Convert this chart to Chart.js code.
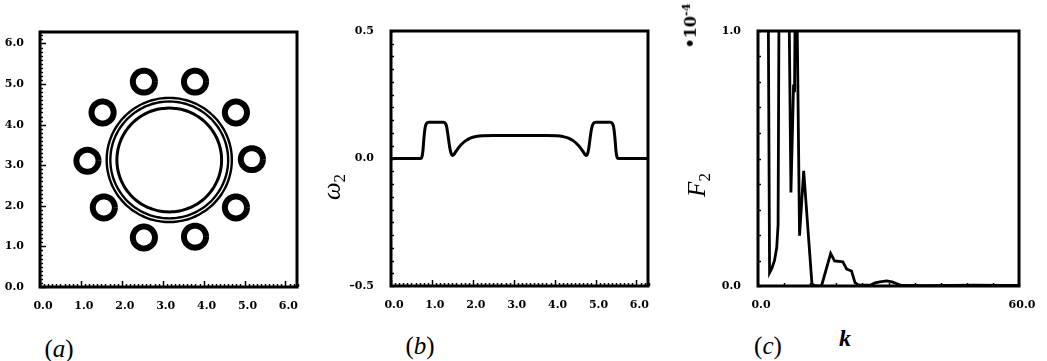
<!DOCTYPE html>
<html lang="en">
<head>
<meta charset="UTF-8" />
<title>Vortex ring geometry, ω2 profile and spectrum</title>
<script src="https://cdn.jsdelivr.net/npm/chart.js"></script>
<style>
  body { margin: 0; background: #fff; width: 1047px; height: 361px; position: relative; overflow: hidden; }
  canvas { position: absolute; top: 0; }
  .lbl { position: absolute; color: #000; font-family: 'Liberation Serif', 'DejaVu Serif', serif; white-space: nowrap; line-height: 1; }
  .ctr { transform: translate(-50%, -50%); }
  .rot { transform: translate(-50%, -50%) rotate(-90deg); }
  .sub { font-size: 0.68em; font-style: normal; position: relative; top: 0.28em; }
</style>
</head>
<body>
<canvas id="geom" width="310" height="320" style="left:0"></canvas>
<canvas id="omega" width="360" height="320" style="left:300px"></canvas>
<canvas id="spec" width="367" height="320" style="left:680px"></canvas>

<div class="lbl ctr" style="left:59px; top:348px; font-size:25px">(<i>a</i>)</div>
<div class="lbl ctr" style="left:420px; top:345px; font-size:25px">(<i>b</i>)</div>
<div class="lbl ctr" style="left:768px; top:345px; font-size:25px">(<i>c</i>)</div>
<div class="lbl ctr" style="left:845px; top:338px; font-size:24px"><b><i>k</i></b></div>
<div class="lbl rot" style="left:331px; top:187px; font-size:25px"><i>ω</i><span class="sub">2</span></div>
<div class="lbl rot" style="left:696px; top:185px; font-size:25px"><i>F</i><span class="sub">2</span></div>
<div class="lbl rot" style="left:690px; top:26px; font-size:16px; font-weight:bold; font-family:'DejaVu Serif', serif">•10<sup style="font-size:0.7em">-4</sup></div>

<script>
  // (a) central ring: centre and the radii of its three contours
  const ringCenter = [3.16, 3.13];
  const ringRadii = [1.53, 1.44, 1.28];
  // (a) the ten small cylinders around it
  const cylX = [2.54, 3.79, 1.53, 4.79, 1.16, 5.18, 1.56, 4.79, 2.54, 3.79];
  const cylY = [5.06, 5.06, 4.30, 4.30, 3.11, 3.15, 1.96, 1.96, 1.22, 1.24];
  const cylRadius = 0.27;
  const geomTicks = [0, 1, 2, 3, 4, 5, 6];
  const geomTickLabels = ['0.0', '1.0', '2.0', '3.0', '4.0', '5.0', '6.0'];

  // (b) omega_2 along the boundary
  const omegaX = [0, 0.72, 0.755, 0.78, 0.805, 0.835, 0.87, 0.92, 1.28, 1.33, 1.36, 1.39, 1.42, 1.45, 1.48, 1.51,
    1.54, 1.58, 1.64, 1.72, 1.82, 1.94, 2.08, 2.25, 2.5, 3.8, 4.05, 4.2, 4.34, 4.46, 4.56, 4.64, 4.70, 4.74, 4.77,
    4.80, 4.83, 4.86, 4.89, 4.92, 4.95, 5.0, 5.36, 5.41, 5.445, 5.475, 5.50, 5.525, 5.56, 6.283];
  const omegaY = [0, 0, 0.006, 0.03, 0.08, 0.122, 0.138, 0.142, 0.142, 0.138, 0.125, 0.095, 0.06, 0.032, 0.016, 0.012,
    0.016, 0.026, 0.04, 0.055, 0.069, 0.08, 0.086, 0.089, 0.09, 0.09, 0.089, 0.086, 0.08, 0.069, 0.055, 0.04, 0.026, 0.016, 0.012,
    0.016, 0.035, 0.07, 0.105, 0.128, 0.138, 0.142, 0.142, 0.138, 0.122, 0.08, 0.03, 0.006, 0, 0];
  const omegaXTicks = [0, 1, 2, 3, 4, 5, 6];
  const omegaXTickLabels = ['0.0', '1.0', '2.0', '3.0', '4.0', '5.0', '6.0'];
  const omegaYTicks = [-0.5, 0, 0.5];
  const omegaYTickLabels = ['\u20130.5', '0.0', '0.5'];

  // (c) spectrum F_2(k), in units of 1e-4 (peaks run off the top)
  const specK = [0, 2.3, 2.66, 3.2, 3.8, 4.3, 4.62, 4.95, 6.9, 7.57, 8.18, 8.4, 8.7, 9.55, 10.5, 12.4, 13.1, 14.6,
    16.7, 17.6, 19.5, 20.4, 21.5, 22.3, 22.8, 23.4, 25.8, 26.9, 28.0, 29.6, 30.8, 31.8, 33.0, 38, 44, 50, 56, 60];
  const specF = [3.2, 1.3, 0.052, 0.07, 0.1, 0.15, 0.24, 1.6, 1.5, 0.367, 0.79, 0.76, 1.5, 0.197, 0.452, 0.008, 0.0, 0.0,
    0.127, 0.098, 0.095, 0.066, 0.059, 0.013, 0.007, 0.003, 0.003, 0.012, 0.016, 0.02, 0.016, 0.01, 0.002, 0.001, 0.002, 0.003, 0.002, 0.002];
  const specXTicks = [0, 60];
  const specXTickLabels = ['0.0', '60.0'];
  const specYTicks = [0, 1];
  const specYTickLabels = ['0.0', '1.0'];

  const TWO_PI = 2 * Math.PI;
  const tickFont = { family: "'DejaVu Serif', serif", size: 11, weight: 'bold' };

  // heavy box around the plot area plus short inward tick marks on left and bottom
  const frameTicks = {
    id: 'frameTicks',
    afterDatasetsDraw(chart, args, opts) {
      const { ctx, chartArea: a, scales } = chart;
      ctx.save();
      ctx.strokeStyle = '#000';
      ctx.lineWidth = 1.5;
      const marks = (scale, t, horizontal) => {
        const n = Math.round((scale.max - scale.min) / t.minor);
        for (let i = 0; i <= n; i++) {
          const v = scale.min + i * t.minor;
          const q = v / t.major;
          const l = Math.abs(q - Math.round(q)) < 1e-6 ? t.majorLen : t.minorLen;
          const p = Math.round(scale.getPixelForValue(v)) + 0.5;
          ctx.beginPath();
          if (horizontal) { ctx.moveTo(p, a.bottom); ctx.lineTo(p, a.bottom - l); }
          else { ctx.moveTo(a.left, p); ctx.lineTo(a.left + l, p); }
          ctx.stroke();
        }
      };
      marks(scales.x, opts.x, true);
      marks(scales.y, opts.y, false);
      ctx.lineWidth = 3;
      ctx.strokeRect(a.left, a.top, a.right - a.left, a.bottom - a.top);
      ctx.restore();
    }
  };

  function axis(min, max, ticks, labels, size, horizontal, padding) {
    return {
      type: 'linear', min, max,
      grid: { display: false },
      border: { display: false },
      afterBuildTicks: s => { s.ticks = ticks.map(v => ({ value: v })); },
      afterFit: s => { if (horizontal) s.height = size; else s.width = size; },
      ticks: {
        autoSkip: false, maxRotation: 0, minRotation: 0, color: '#000', font: tickFont, padding,
        labelOffset: horizontal ? 3 : 0,
        callback: (v, i) => labels[i]
      }
    };
  }

  function baseOptions(pad, xAxis, yAxis, tickSpec) {
    return {
      responsive: false, animation: false, events: [],
      layout: { padding: pad },
      plugins: { legend: { display: false }, tooltip: { enabled: false }, frameTicks: tickSpec },
      scales: { x: xAxis, y: yAxis }
    };
  }

  const outline = (cx, cy, r) => Array.from({ length: 97 }, (_, i) => {
    const t = i / 96 * TWO_PI;
    return { x: cx + r * Math.cos(t), y: cy + r * Math.sin(t) };
  });

  // (a) geometry; a little tension keeps the closed outlines off the fast path
  const circleStyle = { borderColor: '#000', pointRadius: 0, showLine: true, tension: 0.3, borderJoinStyle: 'round' };
  const geomSets = ringRadii.map((r, i) => Object.assign({
    data: outline(ringCenter[0], ringCenter[1], r), borderWidth: i === 2 ? 3 : 2.4
  }, circleStyle)).concat(cylX.map((cx, i) => Object.assign({
    data: outline(cx, cylY[i], cylRadius), borderWidth: 6
  }, circleStyle)));

  new Chart(document.getElementById('geom'), {
    type: 'scatter',
    data: { datasets: geomSets },
    options: baseOptions({ top: 32, right: 13, bottom: 1, left: 0 },
      axis(0, TWO_PI, geomTicks, geomTickLabels, 32, true, 5),
      axis(0, TWO_PI, geomTicks, geomTickLabels, 40, false, 8),
      { x: { minor: 0.1, major: 1, minorLen: 3, majorLen: 6 }, y: { minor: 0.1, major: 1, minorLen: 3, majorLen: 6 } }),
    plugins: [frameTicks]
  });

  // (b) omega_2 profile
  new Chart(document.getElementById('omega'), {
    type: 'scatter',
    data: { datasets: [{
      data: omegaX.map((x, i) => ({ x, y: omegaY[i] })),
      borderColor: '#000', borderWidth: 3, pointRadius: 0, showLine: true, cubicInterpolationMode: 'monotone'
    }] },
    options: baseOptions({ top: 31, right: 12, bottom: 2, left: 0 },
      axis(0, TWO_PI, omegaXTicks, omegaXTickLabels, 32, true, 5),
      axis(-0.5, 0.5, omegaYTicks, omegaYTickLabels, 91, false, 9),
      { x: { minor: 0.1, major: 1, minorLen: 3, majorLen: 6 }, y: { minor: 0.05, major: 0.5, minorLen: 3, majorLen: 3 } }),
    plugins: [frameTicks]
  });

  // (c) spectrum
  new Chart(document.getElementById('spec'), {
    type: 'scatter',
    data: { datasets: [{
      data: specK.map((x, i) => ({ x, y: specF[i] })),
      borderColor: '#000', borderWidth: 2.8, pointRadius: 0, showLine: true, tension: 0
    }] },
    options: baseOptions({ top: 31, right: 28, bottom: 2, left: 0 },
      axis(0, 60, specXTicks, specXTickLabels, 32, true, 5),
      axis(0, 1, specYTicks, specYTickLabels, 78, false, 9),
      { x: { minor: 6, major: 60, minorLen: 3, majorLen: 3 }, y: { minor: 0.1, major: 1, minorLen: 3, majorLen: 3 } }),
    plugins: [frameTicks]
  });
</script>
</body>
</html>
